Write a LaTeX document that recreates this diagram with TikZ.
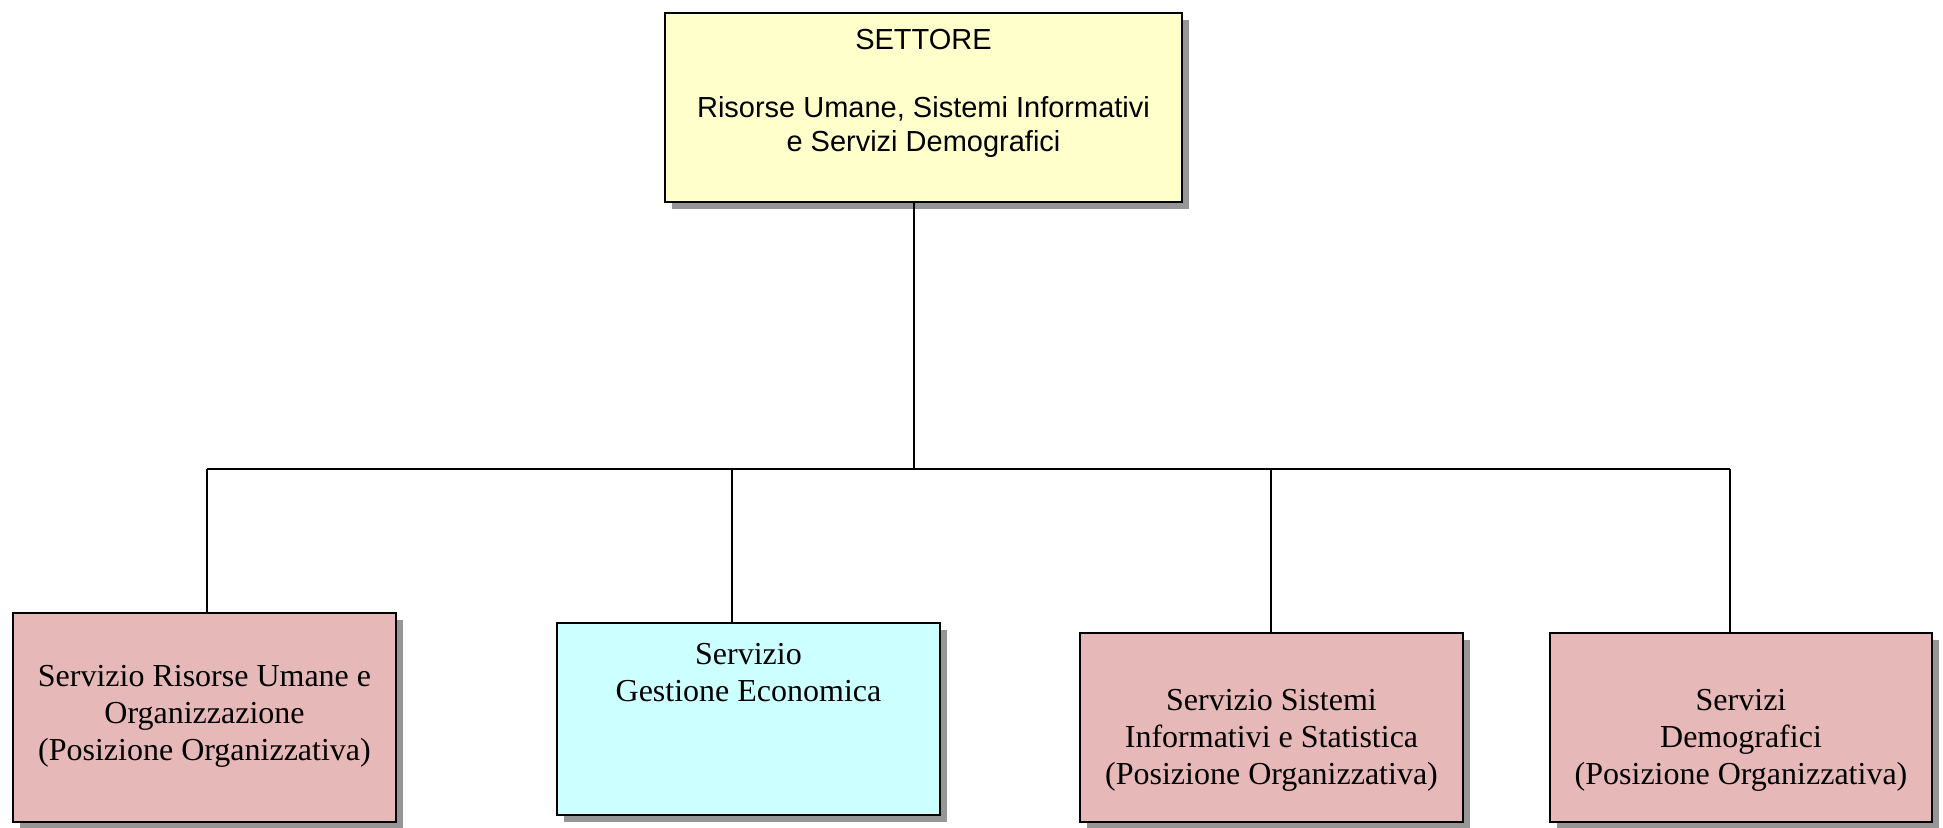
\documentclass[tikz,border=0pt]{standalone}
\usepackage{fontspec}
\setmainfont{Liberation Serif}
\newfontfamily\arialfont{Liberation Sans}
\usetikzlibrary{shadows,calc}
\definecolor{boxyellow}{RGB}{255,255,204}
\definecolor{boxpink}{RGB}{230,184,183}
\definecolor{boxcyan}{RGB}{204,255,255}
\definecolor{shadowgray}{RGB}{150,150,150}
\tikzset{
  orgbox/.style={draw=black, line width=2.6pt, inner sep=0pt,
    drop shadow={shadow xshift=7pt, shadow yshift=-7pt, fill=shadowgray, opacity=1}},
  toptext/.style={align=center, inner sep=0pt, font=\arialfont\fontsize{29}{34}\selectfont},
  subtext/.style={align=center, inner sep=0pt, font=\fontsize{32}{37}\selectfont},
  link/.style={draw=black, line width=1.8pt}
}
\begin{document}
\begin{tikzpicture}[x=1pt,y=-1pt]
\useasboundingbox (0,0) rectangle (1943,827);
% boxes
\node[orgbox, fill=boxyellow, minimum width=517pt, minimum height=189pt] (top) at (923.5,107.5) {};
\node[orgbox, fill=boxpink, minimum width=383pt, minimum height=209pt] (b1) at (204.5,717.5) {};
\node[orgbox, fill=boxcyan, minimum width=383pt, minimum height=192pt] (b2) at (748.5,719) {};
\node[orgbox, fill=boxpink, minimum width=383pt, minimum height=189pt] (b3) at (1271.5,727.5) {};
\node[orgbox, fill=boxpink, minimum width=382pt, minimum height=189pt] (b4) at (1741,727.5) {};
% texts
\node[toptext] (topt) at (923.5,93) {SETTORE\\[34pt]Risorse Umane, Sistemi Informativi\\e Servizi Demografici};
\node[subtext] (b1t) at (204.5,716.5) {Servizio Risorse Umane e\\Organizzazione\\(Posizione Organizzativa)};
\node[subtext] (b2t) at (748.5,673) {Servizio\\Gestione Economica};
\node[subtext] (b3t) at (1271.5,740) {Servizio Sistemi\\Informativi e Statistica\\(Posizione Organizzativa)};
\node[subtext] (b4t) at (1741,740) {Servizi\\Demografici\\(Posizione Organizzativa)};
% connectors
\coordinate (hub) at (914,469);
\coordinate (d1) at (207,469);
\coordinate (d2) at (732,469);
\coordinate (d3) at (1271,469);
\coordinate (d4) at (1730,469);
\draw[link] (hub |- top.south) -- (hub);
\draw[link] (d1) -- (d4);
\draw[link] (d1) -- (d1 |- b1.north);
\draw[link] (d2) -- (d2 |- b2.north);
\draw[link] (d3) -- (d3 |- b3.north);
\draw[link] (d4) -- (d4 |- b4.north);
\end{tikzpicture}
\end{document}
